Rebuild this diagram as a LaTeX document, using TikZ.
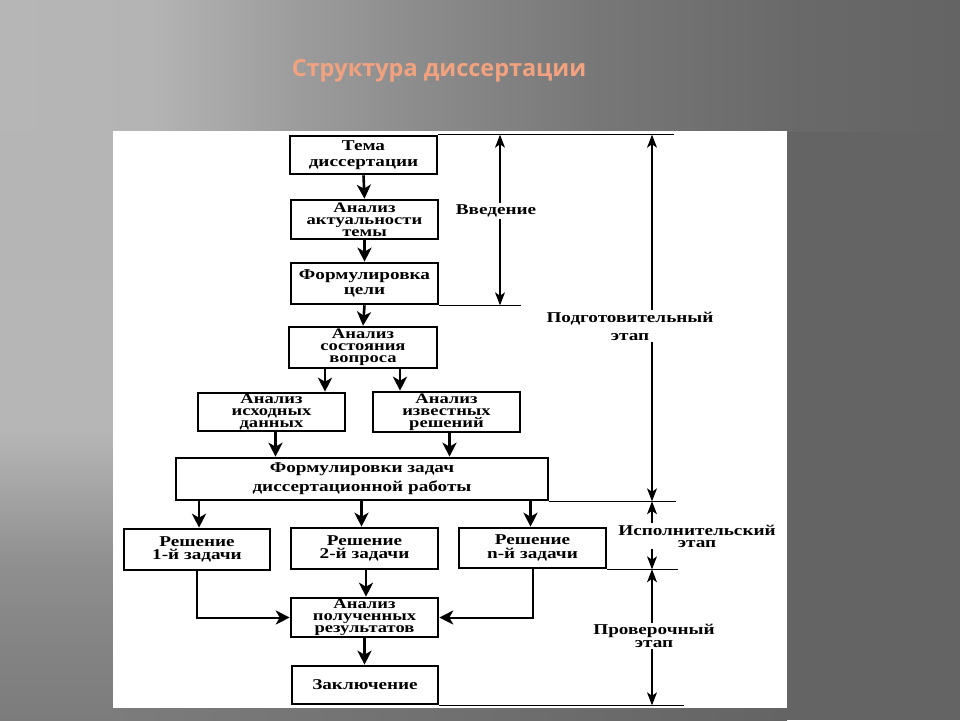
\documentclass[tikz,border=0pt]{standalone}
\usepackage{fontspec}
\setmainfont{Liberation Serif}
\newfontfamily\boxfont[FakeStretch=1.28]{Liberation Serif}
\newfontfamily\titlefont{Open Sans}
\usetikzlibrary{arrows.meta}
\definecolor{titlec}{HTML}{F2A27E}
\definecolor{bgbase}{HTML}{646464}
\definecolor{g1}{HTML}{B6B6B6}
\definecolor{g2}{HTML}{B4B4B4}
\definecolor{g3}{HTML}{9C9C9C}
\definecolor{g4}{HTML}{888888}
\definecolor{g5}{HTML}{777777}
\definecolor{g6}{HTML}{696969}
\definecolor{g7}{HTML}{646464}
\definecolor{l1}{HTML}{B5B5B5}
\definecolor{l2}{HTML}{B6B6B6}
\definecolor{l3}{HTML}{A2A2A2}
\definecolor{l4}{HTML}{909090}
\definecolor{l5}{HTML}{848484}
\definecolor{l6}{HTML}{7C7C7C}
\pgfdeclarehorizontalshading{topband}{100bp}{color(0bp)=(g1); color(25bp)=(g1); color(32.8bp)=(g2); color(40.6bp)=(g3); color(48.4bp)=(g4); color(56.25bp)=(g5); color(66.7bp)=(g6); color(75bp)=(g7); color(100bp)=(g7)}
\pgfdeclareverticalshading{leftband}{100bp}{color(0bp)=(l6); color(25bp)=(l6); color(31.8bp)=(l5); color(38.6bp)=(l4); color(43.7bp)=(l3); color(49.6bp)=(l2); color(75bp)=(l1); color(100bp)=(l1)}
\tikzset{
  box/.style={draw, line width=2.6pt, fill=white, inner sep=0pt, align=center},
  bf/.style={font=\boxfont\bfseries\fontsize{15}{#1}\selectfont},
  bfs/.style={font=\boxfont\bfseries\fontsize{14.5}{#1}\selectfont},
  arr/.style={line width=2.6pt, -{Stealth[length=14pt,width=14pt,inset=4pt]}},
  elbow/.style={line width=2pt, -{Stealth[length=14pt,width=14pt,inset=4pt]}},
  ext/.style={line width=1.1pt},
  dimline/.style={line width=1.2pt, {Stealth[length=13pt,width=10pt,inset=3.5pt]}-{Stealth[length=13pt,width=10pt,inset=3.5pt]}},
  lab/.style={fill=white, inner sep=1.5pt, align=center}
}
\begin{document}
\begin{tikzpicture}[x=1pt,y=-1pt]
\useasboundingbox (0,0) rectangle (960,720);
% background
\fill[bgbase] (0,0) rectangle (960,720);
\shade[shading=topband] (0,0) rectangle (960,131);
\shade[shading=leftband] (0,131) rectangle (113,720);
\shade[left color=l6, right color=g7] (113,708) rectangle (787,720);
\fill[white] (113,131) rectangle (787,708);
% title
\node[font=\titlefont\bfseries\fontsize{23.5}{28}\selectfont, text=titlec, anchor=base] (title) at (439,76) {Структура диссертации};
% boxes
\node[box, bf=16, minimum width=147, minimum height=38] (tema) at (363.5,155) {Тема\\диссертации};
\node[box, bfs=12, minimum width=147, minimum height=39] (akt) at (364.5,219.5) {Анализ\\актуальности\\темы};
\node[box, bf=15, minimum width=147, minimum height=41] (form) at (364.5,283.5) {Формулировка\\цели};
\node[box, bfs=12, minimum width=148, minimum height=41] (sost) at (363,347.5) {Анализ\\состояния\\вопроса};
\node[box, bfs=12, minimum width=147, minimum height=38] (iskh) at (271.5,412) {Анализ\\исходных\\данных};
\node[box, bfs=12, minimum width=147, minimum height=40] (izv) at (446.5,412) {Анализ\\известных\\решений};
\node[box, bf=19, minimum width=372, minimum height=42] (zad) at (362,479) {Формулировки задач\\диссертационной работы};
\node[box, bf=13.5, minimum width=146, minimum height=41] (r1) at (197,549.5) {Решение\\1-й задачи};
\node[box, bf=13.5, minimum width=147, minimum height=41] (r2) at (364.5,548.5) {Решение\\2-й задачи};
\node[box, bf=13.5, minimum width=147, minimum height=40] (rn) at (532.5,548) {Решение\\n-й задачи};
\node[box, bfs=12, minimum width=147, minimum height=39] (anp) at (364.5,617.5) {Анализ\\полученных\\результатов};
\node[box, bf=15, minimum width=146, minimum height=38] (zakl) at (365,685) {Заключение};
% arrows
\draw[arr] (tema.south) -- (akt.north);
\draw[arr] (akt.south) -- (form.north);
\draw[arr] (form.south) -- (sost.north);
\draw[arr] ([xshift=-38pt]sost.south) -- ([xshift=-38pt]sost.south |- iskh.north);
\draw[arr] ([xshift=37pt]sost.south) -- ([xshift=37pt]sost.south |- izv.north);
\draw[arr] ([xshift=4pt]iskh.south) -- ([xshift=4pt]iskh.south |- zad.north);
\draw[arr] ([xshift=3pt]izv.south) -- ([xshift=3pt]izv.south |- zad.north);
\draw[arr] ([xshift=2pt]r1.north |- zad.south) -- ([xshift=2pt]r1.north);
\draw[arr] ([xshift=-3pt]r2.north |- zad.south) -- ([xshift=-3pt]r2.north);
\draw[arr] ([xshift=-2pt]rn.north |- zad.south) -- ([xshift=-2pt]rn.north);
\draw[elbow] (r1.south) |- (anp.west);
\draw[elbow] (rn.south) |- (anp.east);
\draw[arr] ([xshift=1.5pt]r2.south) -- ([xshift=1.5pt]r2.south |- anp.north);
\draw[arr] (anp.south) -- (anp.south |- zakl.north);
% extension lines
\coordinate (xV) at (500,0);
\coordinate (xP) at (652,0);
\draw[ext] (tema.north east) -- ++(236,0);
\draw[ext] (form.south east) -- ++(82,0);
\draw[ext] (zad.south east) -- ++(127,0);
\draw[ext] (rn.south east) -- ++(71,0);
\draw[ext] (zakl.south east) -- ++(245,0);
% dimension arrows
\draw[dimline] (tema.north -| xV) -- (form.south -| xV);
\draw[dimline] (tema.north -| xP) -- (zad.south -| xP);
\draw[dimline] (zad.south -| xP) -- (rn.south -| xP);
\draw[dimline] (rn.south -| xP) -- (zakl.south -| xP);
\node[lab, bf=13] (lv) at (496,211) {Введение};
\node[lab, bf=18] (lp) at (630,326) {Подготовительный\\этап};
\node[lab, bf=12] (li) at (697,536) {Исполнительский\\этап};
\node[lab, bf=13] (lpr) at (654,636) {Проверочный\\этап};
\end{tikzpicture}
\end{document}
